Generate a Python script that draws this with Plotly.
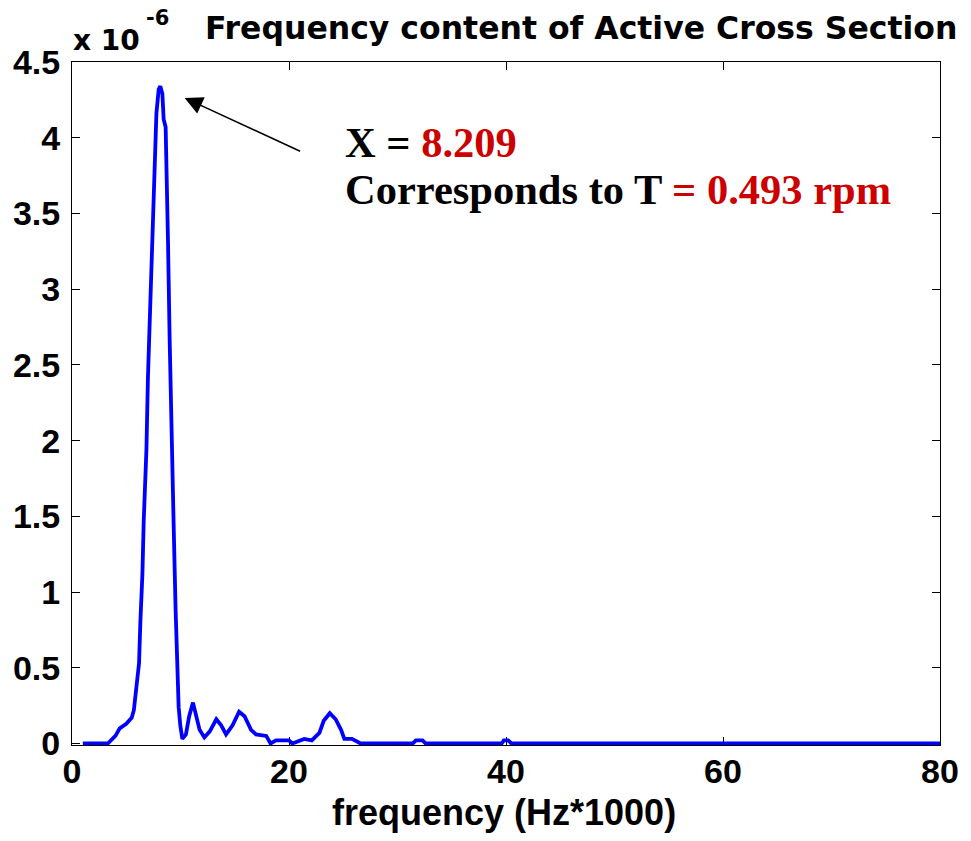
import plotly.graph_objects as go

# ---- data (frequency in Hz*1000, amplitude in units of 1e-6) ----
freq = [1.0, 3.3, 4.0, 4.4, 5.0, 5.5, 5.7, 5.94, 6.18, 6.3, 6.49, 6.61, 6.86, 7.0,
        7.22, 7.38, 7.56, 7.78, 7.99, 8.14, 8.33, 8.45, 8.63, 8.76, 8.85, 9.0, 9.16,
        9.37, 9.55, 9.7, 9.83, 9.98, 10.17, 10.5, 10.8, 11.15, 11.45, 11.76, 12.2,
        12.7, 13.3, 13.75, 14.2, 14.8, 15.4, 15.9, 16.5, 16.96, 17.9, 18.3, 18.8,
        20.0, 20.3, 21.4, 22.1, 22.8, 23.2, 23.76, 24.3, 24.8, 25.1, 25.8, 26.6,
        31.4, 31.7, 32.3, 32.6, 39.6, 39.8, 40.2, 40.5, 80.0]
amp = [0.0, 0.0, 0.05, 0.10, 0.13, 0.17, 0.22, 0.38, 0.53, 0.80, 1.12, 1.47, 1.94, 2.42,
       2.92, 3.41, 3.84, 4.16, 4.32, 4.34, 4.29, 4.12, 4.07, 3.72, 3.31, 2.67, 2.0,
       1.44, 0.88, 0.50, 0.24, 0.12, 0.03, 0.06, 0.18, 0.27, 0.19, 0.09, 0.04,
       0.08, 0.16, 0.12, 0.06, 0.12, 0.21, 0.18, 0.09, 0.06, 0.05, 0.0, 0.02,
       0.02, 0.0, 0.03, 0.02, 0.07, 0.15, 0.20, 0.16, 0.09, 0.03, 0.03, 0.0,
       0.0, 0.02, 0.02, 0.0, 0.0, 0.02, 0.02, 0.0, 0.0]

x_ticks = [0, 20, 40, 60, 80]
y_ticks = [0, 0.5, 1, 1.5, 2, 2.5, 3, 3.5, 4, 4.5]
y_ticktext = ["0", "0.5", "1", "1.5", "2", "2.5", "3", "3.5", "4", "4.5"]

peak_x = 10.38   # arrow head location (data units)
peak_y = 4.263

title_text = "Frequency content of Active Cross Section"
xlabel_text = "frequency (Hz*1000)"
RED = "#CC0000"
line1 = f"X = <span style='color:{RED}'>8.209</span>"
line2 = f"Corresponds to T <span style='color:{RED}'>= 0.493 rpm</span>"

# ---- layout geometry (pixels) ----
W, H = 971, 841
L, R, T, B = 72, 943, 62, 745

def px(xp):
    return (xp - L) / (R - L)

def py(yp):
    return (B - yp) / (B - T)

SANS = "Liberation Sans, Arial, Helvetica, sans-serif"
DEJAVU = "DejaVu Sans, sans-serif"
SERIF = "Liberation Serif, Times New Roman, serif"

fig = go.Figure()
fig.add_trace(go.Scatter(x=freq, y=amp, mode="lines",
                         line=dict(color="#0000FF", width=3.8),
                         showlegend=False, hoverinfo="skip"))

axis_common = dict(showline=True, linecolor="black", linewidth=1, mirror="ticks",
                   ticks="inside", ticklen=8, tickwidth=1, tickcolor="black",
                   showgrid=False, zeroline=False, layer="below traces",
                   tickfont=dict(family=SANS, size=34, color="black", weight="bold"))

fig.update_layout(
    width=W, height=H,
    margin=dict(l=L, r=W - R, t=T, b=H - B, pad=0),
    paper_bgcolor="white", plot_bgcolor="white",
    xaxis=dict(range=[0, 80], tickvals=x_ticks, ticklabelstandoff=-4, **axis_common),
    yaxis=dict(range=[-0.01, 4.5], tickvals=y_ticks, ticktext=y_ticktext,
               ticklabelstandoff=4, **axis_common),
)

annos = [
    dict(text=title_text, x=px(582.5), y=py(28.5), xanchor="center", yanchor="middle",
         font=dict(family=DEJAVU, size=31.5, color="black", weight="bold")),
    dict(text="x 10", x=px(72), y=py(40), xanchor="left", yanchor="middle",
         font=dict(family=DEJAVU, size=28, color="black", weight="bold")),
    dict(text="-6", x=px(145), y=py(18.3), xanchor="left", yanchor="middle",
         font=dict(family=DEJAVU, size=21, color="black", weight="bold")),
    dict(text=xlabel_text, x=px(505), y=py(812.5), xanchor="center", yanchor="middle",
         font=dict(family=SANS, size=36, color="black", weight="bold")),
    dict(text=line1, x=px(345), y=py(142.5), xanchor="left", yanchor="middle",
         font=dict(family=SERIF, size=42.5, color="black", weight="bold")),
    dict(text=line2, x=px(345), y=py(189), xanchor="left", yanchor="middle",
         font=dict(family=SERIF, size=42.5, color="black", weight="bold")),
]
for a in annos:
    fig.add_annotation(xref="paper", yref="paper", showarrow=False, borderpad=0, **a)

fig.add_annotation(x=peak_x, y=peak_y, xref="x", yref="y", text="", showarrow=True,
                   ax=117, ay=54, axref="pixel", ayref="pixel",
                   arrowhead=2, arrowsize=2.4, arrowwidth=1.5, arrowcolor="black")

fig.write_html("out.html")
